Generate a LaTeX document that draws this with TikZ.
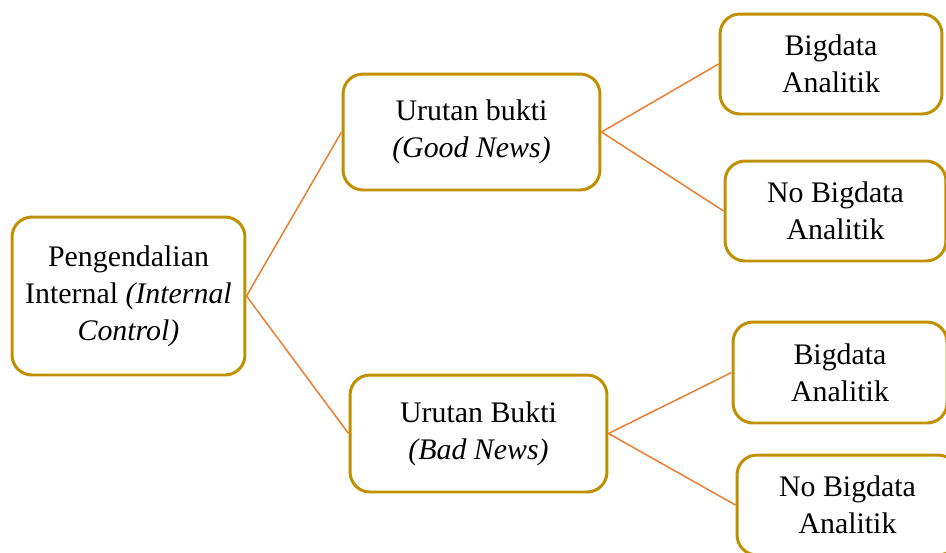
\documentclass[tikz,border=0pt]{standalone}
\usepackage{fontspec}
\setmainfont{Liberation Serif}
\definecolor{boxgold}{HTML}{BF9000}
\definecolor{linkorange}{HTML}{ED7D31}

\begin{document}
\begin{tikzpicture}[
  x = 0.02cm, y = -0.02cm,
  block/.style = {rectangle, draw = boxgold, line width = 1.7pt, rounded corners = 0.4cm,
                  align = center, inner sep = 0pt, font = \fontsize{17}{21}\selectfont},
  link/.style  = {draw = linkorange, line width = 0.85pt}
]
  \useasboundingbox (0,0) rectangle (946,552);

  \node[block, minimum width = 4.66cm, minimum height = 3.16cm] (ctrl) at (128.5, 296)   {Pengendalian\\Internal \textit{(Internal}\\\textit{Control)}};
  \node[block, minimum width = 5.14cm, minimum height = 2.32cm] (good) at (471.5, 132)   {Urutan bukti\\\textit{(Good News)}};
  \node[block, minimum width = 5.14cm, minimum height = 2.34cm] (bad)  at (478.5, 433.5) {Urutan Bukti\\\textit{(Bad News)}};
  \node[block, minimum width = 4.44cm, minimum height = 2.0cm]  (gbig) at (831,   64)    {Bigdata\\Analitik};
  \node[block, minimum width = 4.42cm, minimum height = 2.0cm]  (gno)  at (835.5, 211)   {No Bigdata\\Analitik};
  \node[block, minimum width = 4.28cm, minimum height = 2.02cm] (bbig) at (840,   372.5) {Bigdata\\Analitik};
  \node[block, minimum width = 4.42cm, minimum height = 2.0cm]  (bno)  at (847.5, 505)   {No Bigdata\\Analitik};

  \draw[link] (ctrl.east) -- (good.west);
  \draw[link] (ctrl.east) -- (bad.west);
  \draw[link] (good.east) -- (gbig.west);
  \draw[link] (good.east) -- (gno.west);
  \draw[link] (bad.east)  -- (bbig.west);
  \draw[link] (bad.east)  -- (bno.west);
\end{tikzpicture}
\end{document}
